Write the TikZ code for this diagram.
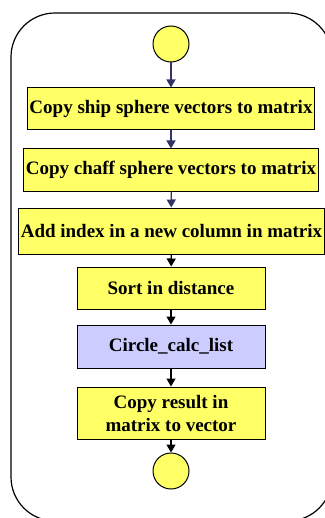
\documentclass[tikz,border=0pt]{standalone}
\usepackage{fontspec}
\setmainfont{Liberation Serif}
\usetikzlibrary{arrows.meta,positioning}

\begin{document}
\begin{tikzpicture}[
  x=0.5pt, y=-0.5pt,
  font=\fontsize{9.5}{11.5}\selectfont\bfseries,
  >={Triangle[length=4pt, width=4.5pt]},
  stepbox/.style={draw, line width=0.5pt, fill=boxyellow, minimum height=21pt, align=center, inner sep=1pt},
  endpt/.style={draw, circle, line width=0.5pt, fill=boxyellow, minimum size=18pt, inner sep=0pt},
  flow/.style={->, line width=0.6pt}
]

\definecolor{boxyellow}{RGB}{255,255,102}
\definecolor{callblue}{RGB}{204,204,255}
\definecolor{navy}{RGB}{51,51,102}

\useasboundingbox (0,0) rectangle (325,518);
\begin{scope}
\clip (0,0) rectangle (325,518);
\draw[line width=0.6pt, rounded corners=22pt] (11,13) rectangle (332,521);
\end{scope}

\node[endpt] (start) at (171,44) {};
\node[stepbox, minimum width=141pt] (shipvec) at (171,109) {Copy ship sphere vectors to matrix};
\node[stepbox, minimum width=145pt] (chaffvec) at (171,170) {Copy chaff sphere vectors to matrix};
\node[stepbox, minimum width=152.5pt, minimum height=23pt] (addidx) at (171.5,231) {Add index in a new column in matrix};
\node[stepbox, minimum width=94pt] (sortdist) at (171,288) {Sort in distance};
\node[stepbox, minimum width=94pt, minimum height=21.5pt, fill=callblue] (calclist) at (171,346.5) {Circle\_calc\_list};
\node[stepbox, minimum width=94pt, minimum height=26pt] (copyres) at (171,413) {Copy result in\\matrix to vector};
\node[endpt] (stop) at (171,471) {};

\draw[flow, draw=navy, fill=navy] (start) -- (shipvec);
\draw[flow, draw=navy, fill=navy] (shipvec) -- (chaffvec);
\draw[flow, draw=navy, fill=navy] (chaffvec) -- (addidx);
\draw[flow] (addidx) -- (sortdist);
\draw[flow] (sortdist) -- (calclist);
\draw[flow] (calclist) -- (copyres);
\draw[flow] (copyres) -- (stop);

\end{tikzpicture}
\end{document}
